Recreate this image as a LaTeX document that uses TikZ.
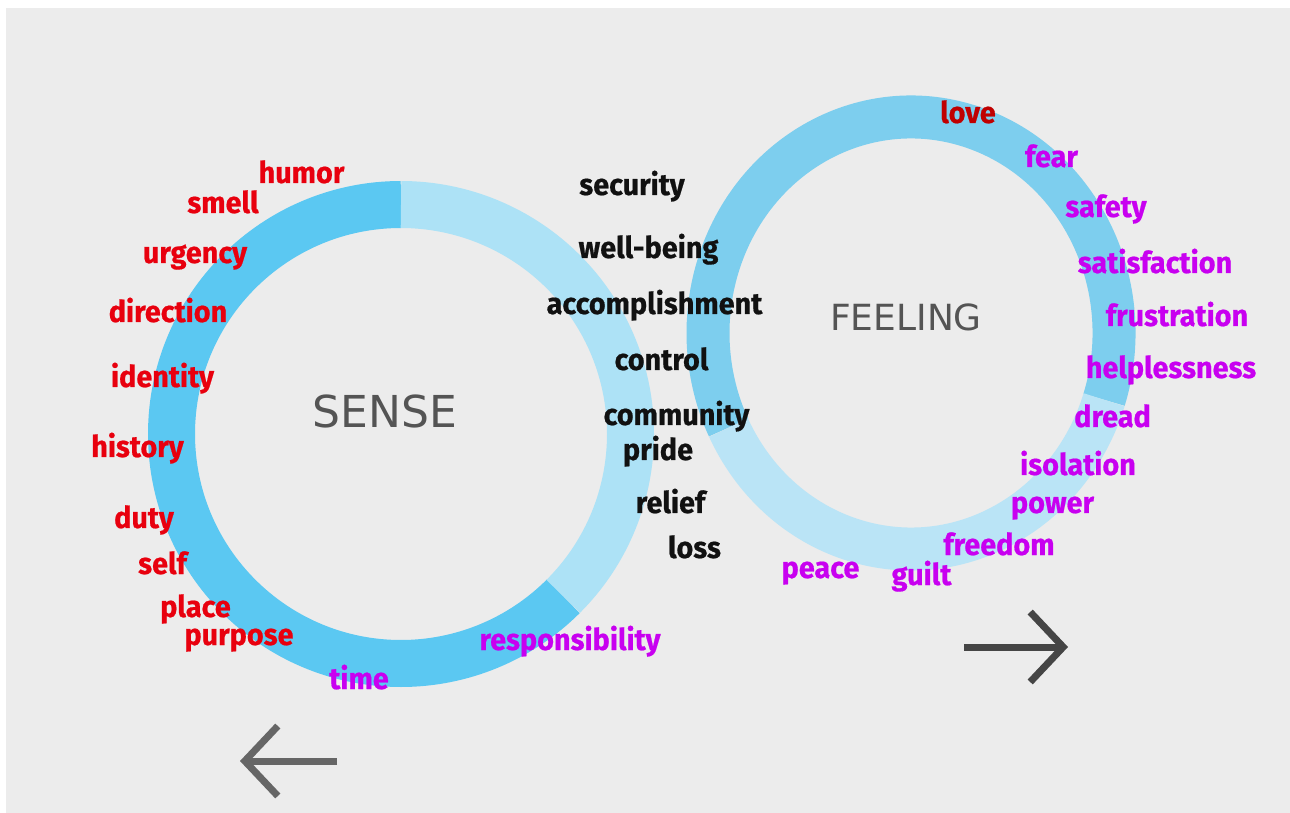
\documentclass[tikz,border=0pt]{standalone}
\usepackage{fontspec}
\usepackage{tikz}
\usetikzlibrary{arrows.meta}
\newfontfamily\wordfont{Fira Sans}[FakeStretch=0.96, BoldFeatures={FakeBold=0.6}]
\newfontfamily\titlefont{DejaVu Sans}

\definecolor{paper}{RGB}{236,236,236}
\definecolor{sensedark}{RGB}{91,200,242}
\definecolor{senselight}{RGB}{173,226,246}
\definecolor{feeldark}{RGB}{125,206,238}
\definecolor{feellight}{RGB}{186,228,246}
\definecolor{wordred}{RGB}{232,0,14}
\definecolor{lovered}{RGB}{192,0,0}
\definecolor{wordpurple}{RGB}{200,0,240}
\definecolor{wordblack}{RGB}{17,17,17}

\begin{document}
\begin{tikzpicture}[x=1pt,y=1pt,
    word/.style={font=\wordfont\bfseries\fontsize{30}{34}\selectfont, anchor=base, inner sep=0pt},
    title/.style={font=\titlefont\fontsize{#1}{#1}\selectfont, text=black!67, anchor=base, inner sep=0pt},
    pointer/.style={line width=7pt, -{Straight Barb[length=33pt 0, width=70pt 0]}}]
\useasboundingbox (0,0) rectangle (1290,812);
\fill[paper] (6,-10) rectangle (1300,804);

% Sense ring
\coordinate (sense c) at (401,378);
\draw[line width=47pt,sensedark] ([shift={(90:229.5)}]sense c) arc[start angle=90, end angle=315, radius=229.5];
\draw[line width=47pt,senselight] ([shift={(-45:229.5)}]sense c) arc[start angle=-45, end angle=90, radius=229.5];

% Feeling ring
\coordinate (feel c) at (911,479);
\draw[line width=43pt,feeldark] ([shift={(-18:203 and 216)}]feel c) arc[start angle=-18, end angle=206, x radius=203, y radius=216];
\draw[line width=43pt,feellight] ([shift={(206:203 and 216)}]feel c) arc[start angle=206, end angle=342, x radius=203, y radius=216];

% Ring titles
\node[title=44] (sense) at (385,384) {SENSE};
\node[title=36] (feeling) at (906,481) {FEELING};

% Words round the sense ring
\foreach \w/\x/\y in {humor/301.5/629, smell/223/599, urgency/195/549, direction/168/490,
    identity/162.5/425, history/137.5/355, duty/144/284, self/162.5/238,
    place/195.5/195, purpose/239/167} {
    \node[word,text=wordred] (\w) at (\x,\y) {\w};
}
\foreach \w/\x/\y in {time/359/123, responsibility/570/162} {
    \node[word,text=wordpurple] (\w) at (\x,\y) {\w};
}

% Words between the rings
\foreach \w/\x/\y in {security/632/617, well-being/648.5/554, accomplishment/654.5/498,
    control/661.5/442, community/676.5/387, pride/658/352, relief/670.5/299, loss/694.5/254} {
    \node[word,text=wordblack] (\w) at (\x,\y) {\w};
}

% Words round the feeling ring
\node[word,text=lovered] (love) at (968,689) {love};
\foreach \w/\x/\y in {fear/1051.5/645, safety/1106/595, satisfaction/1155/539,
    frustration/1177/486, helplessness/1171/434, dread/1112.5/385, isolation/1078/337,
    power/1052.5/299, freedom/999/257, guilt/921.5/227, peace/820.5/234} {
    \node[word,text=wordpurple] (\w) at (\x,\y) {\w};
}

% Direction arrows
\coordinate (fwd tail) at (964,165);
\coordinate (fwd tip) at (1068,165);
\draw[pointer,black!73] (fwd tail) -- (fwd tip);
\coordinate (back tail) at (337,51);
\coordinate (back tip) at (240,51);
\draw[pointer,black!60] (back tail) -- (back tip);

\end{tikzpicture}
\end{document}
